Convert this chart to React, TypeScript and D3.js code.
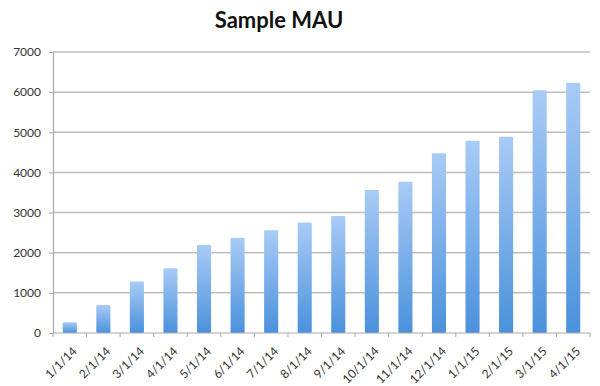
import React, { useEffect, useRef } from 'react';
import * as d3 from 'd3';

// Monthly active users
const months = [
  '1/1/14', '2/1/14', '3/1/14', '4/1/14', '5/1/14', '6/1/14', '7/1/14', '8/1/14', '9/1/14',
  '10/1/14', '11/1/14', '12/1/14', '1/1/15', '2/1/15', '3/1/15', '4/1/15',
];
const mau = [
  270, 700, 1280, 1610, 2190, 2375, 2560, 2750, 2915, 3560, 3770, 4480, 4790, 4890, 6050, 6235,
];
const yTicks = [0, 1000, 2000, 3000, 4000, 5000, 6000, 7000];

const MauChart: React.FC = () => {
  const svgRef = useRef<SVGSVGElement>(null);

  useEffect(() => {
    const width = 600;
    const height = 386;
    const left = 53;
    const right = 590;
    const top = 52;
    const bottom = 333;
    const font = 'Lato, "Open Sans", sans-serif';

    const svg = d3.select(svgRef.current)
      .attr('width', width)
      .attr('height', height);
    svg.selectAll('*').remove();

    const grad = svg.append('defs').append('linearGradient')
      .attr('id', 'barFill')
      .attr('x1', 0).attr('y1', 0).attr('x2', 0).attr('y2', 1);
    grad.append('stop').attr('offset', '0%').attr('stop-color', '#a9cbf6');
    grad.append('stop').attr('offset', '100%').attr('stop-color', '#4a91dc');

    const x = d3.scaleBand<string>()
      .domain(months)
      .range([left, right])
      .paddingInner(0.58)
      .paddingOuter(0.29);

    const y = d3.scaleLinear()
      .domain([0, 7000])
      .range([bottom, top]);

    // gridlines
    svg.append('g')
      .selectAll('line')
      .data(yTicks.filter(t => t > 0))
      .enter()
      .append('line')
      .attr('x1', left)
      .attr('x2', right)
      .attr('y1', d => y(d))
      .attr('y2', d => y(d))
      .attr('stroke', '#bdbdbd')
      .attr('stroke-width', 1.5);

    // bars
    svg.append('g')
      .selectAll('rect')
      .data(mau)
      .enter()
      .append('rect')
      .attr('x', (d, i) => x(months[i]) as number)
      .attr('y', d => y(d))
      .attr('width', x.bandwidth())
      .attr('height', d => bottom - y(d))
      .attr('rx', 1)
      .attr('fill', 'url(#barFill)');

    // y axis
    const yAxis = svg.append('g')
      .attr('transform', `translate(${left},0)`)
      .call(d3.axisLeft(y).tickValues(yTicks).tickSize(4).tickPadding(8).tickFormat(d3.format('d')));
    yAxis.select('.domain').attr('stroke', '#aaa').attr('stroke-width', 1.2);
    yAxis.selectAll('.tick line').attr('stroke', '#aaa');
    yAxis.selectAll('text')
      .attr('font-family', font)
      .attr('font-size', 12)
      .attr('fill', '#333');

    // x axis, ticks sit on category boundaries
    const step = x.step();
    const xAxis = svg.append('g')
      .attr('transform', `translate(0,${bottom})`);
    xAxis.append('line')
      .attr('x1', left).attr('x2', right)
      .attr('stroke', '#aaa').attr('stroke-width', 1.2);
    xAxis.selectAll('line.tk')
      .data(d3.range(months.length + 1))
      .enter()
      .append('line')
      .attr('class', 'tk')
      .attr('x1', i => left + i * step)
      .attr('x2', i => left + i * step)
      .attr('y1', 0)
      .attr('y2', 4)
      .attr('stroke', '#aaa');
    xAxis.selectAll('text')
      .data(months)
      .enter()
      .append('text')
      .attr('transform', d => `translate(${(x(d) as number) + x.bandwidth() / 2 + 2},${13}) rotate(-45)`)
      .attr('text-anchor', 'end')
      .attr('dy', '0.7em')
      .attr('font-family', font)
      .attr('font-size', 12)
      .attr('fill', '#333')
      .text(d => d);

    // title
    svg.append('text')
      .attr('x', 279)
      .attr('y', 28)
      .attr('text-anchor', 'middle')
      .attr('font-family', font)
      .attr('font-weight', 'bold')
      .attr('font-size', 22)
      .attr('fill', '#111')
      .text('Sample MAU');
  }, []);

  return (
    <svg ref={svgRef} style={{ position: 'absolute', left: 0, top: 0 }}></svg>
  );
};

const App: React.FC = () => {
  return <MauChart />;
};

export default App;
